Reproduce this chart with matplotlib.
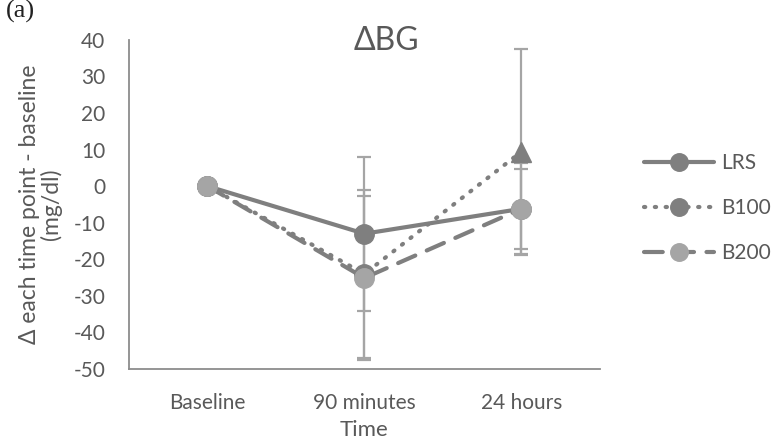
import matplotlib.pyplot as plt
import numpy as np

# data
time_points = ['Baseline', '90 minutes', '24 hours']
lrs = [0, -13, -6.2]
b100 = [0, -24, 9.4]
b200 = [0, -25.1, -6.2]
lrs_err = [0, 21, 11]
b100_err = [0, 23, 28]
b200_err = [0, 22.5, 12.5]

plt.rcParams['font.family'] = ['Lato', 'DejaVu Sans']
plt.rcParams['axes.unicode_minus'] = False

fig = plt.figure(figsize=(7.72, 4.42), dpi=100)
ax = fig.add_axes([0.167, 0.165, 0.61, 0.745])

x = np.arange(len(time_points))
dark = '#7f7f7f'
light = '#a5a5a5'
text_col = '#595959'

# error bars first, so lines and markers sit on top
for vals, err in [(lrs, lrs_err), (b100, b100_err), (b200, b200_err)]:
    ax.errorbar(x, vals, yerr=err, fmt='none', ecolor=light, elinewidth=1.6,
                capsize=5, capthick=1.6, zorder=1)

ax.plot(x, lrs, color=dark, lw=3, marker='o', ms=14, mfc=dark, mec=dark,
        solid_capstyle='round', label='LRS', zorder=3)
ax.plot(x, b100, color=dark, lw=3, linestyle=(0, (0.3, 2.3)),
        dash_capstyle='round', marker='o', ms=14, mfc=dark, mec=dark,
        markevery=[0, 1], label='B100', zorder=4)
ax.plot(x[2], b100[2], marker='^', ms=15, color=dark, linestyle='none', zorder=4)
ax.plot(x, b200, color=dark, lw=3, linestyle=(0, (4.5, 3)),
        dash_capstyle='round', marker='o', ms=14, mfc=light, mec=light,
        label='B200', zorder=5)

ax.set_xlim(-0.5, 2.5)
ax.set_ylim(-50, 40)
ax.set_yticks(np.arange(-50, 41, 10))
ax.set_xticks(x)
ax.set_xticklabels(time_points)
ax.tick_params(length=0, labelsize=15, colors=text_col)
ax.tick_params(axis='y', pad=17)
ax.tick_params(axis='x', pad=17)

for side in ['top', 'right']:
    ax.spines[side].set_visible(False)
for side in ['left', 'bottom']:
    ax.spines[side].set_color('#8c8c8c')
    ax.spines[side].set_linewidth(1.3)

ax.set_xlabel('Time', fontsize=16, color=text_col, labelpad=5)
ax.set_ylabel('Δ each time point - baseline\n(mg/dl)', fontsize=16.5,
              color=text_col, labelpad=8, linespacing=1.0)

fig.text(0.5, 1 - 50 / 442, 'ΔBG', ha='center', va='baseline', fontsize=23,
         color=text_col)
fig.text(0.008, 1.0, '(a)', ha='left', va='top', fontsize=19,
         family='Liberation Serif', color='#222222')

ax.legend(loc='center left', bbox_to_anchor=(1.0, 0.488), frameon=False,
          fontsize=15, labelcolor=text_col, handlelength=3.4,
          handletextpad=0.3, labelspacing=1.2, markerscale=0.9,
          borderaxespad=1.7)

plt.savefig('out.png', dpi=100)
